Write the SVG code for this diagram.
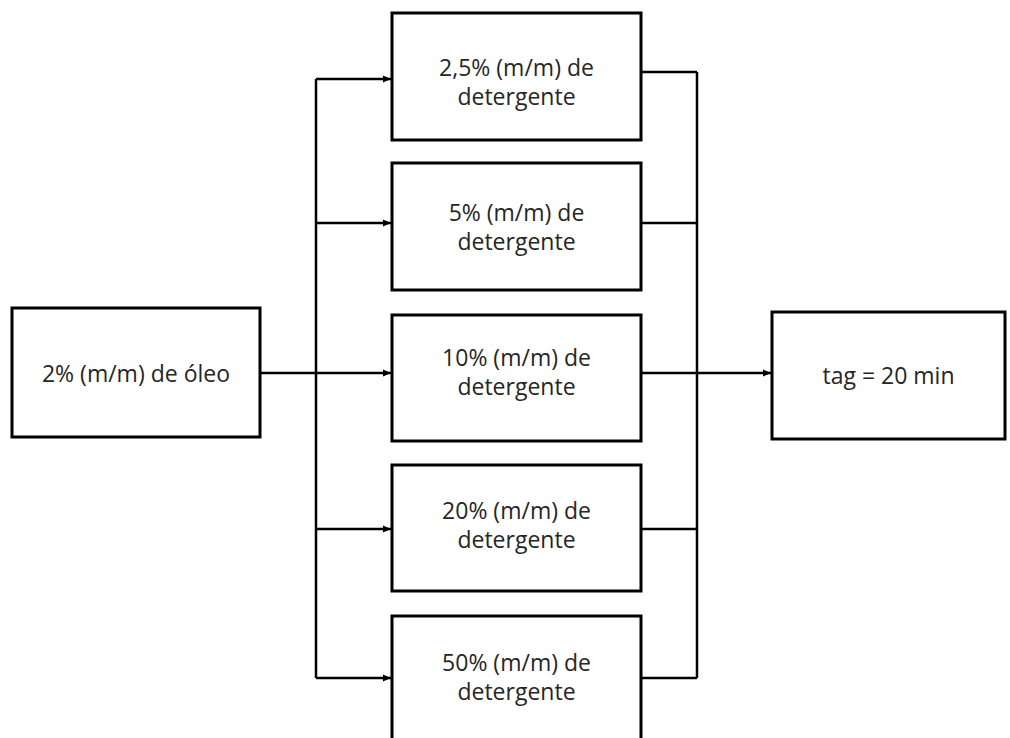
<svg xmlns="http://www.w3.org/2000/svg" width="1010" height="738" viewBox="0 0 1010 738">
<style>
.box{fill:#fff;stroke:#000;stroke-width:3}
.t{font-family:"Open Sans","Noto Sans",sans-serif;font-size:23px;fill:#262626;text-anchor:middle}
.c{fill:none;stroke:#000;stroke-width:2.5}
</style>
<defs>
<marker id="ah" markerWidth="8" markerHeight="8" refX="8" refY="4" orient="auto" markerUnits="userSpaceOnUse">
<path d="M0,0.5 L8,4 L0,7.5 Z" fill="#000"/>
</marker>
</defs>
<rect width="1010" height="738" fill="#fff"/>
<g id="connectors">
<path class="c" d="M316,79 V678"/>
<path class="c" d="M697,72 V678"/>
<path class="c" d="M316,79 H391" marker-end="url(#ah)"/>
<path class="c" d="M316,223 H391" marker-end="url(#ah)"/>
<path class="c" d="M260,373 H391" marker-end="url(#ah)"/>
<path class="c" d="M316,529 H391" marker-end="url(#ah)"/>
<path class="c" d="M316,678 H391" marker-end="url(#ah)"/>
<path class="c" d="M641,72 H697"/>
<path class="c" d="M641,223 H697"/>
<path class="c" d="M641,373 H771" marker-end="url(#ah)"/>
<path class="c" d="M641,529 H697"/>
<path class="c" d="M641,678 H697"/>
</g>
<g id="oleo">
<rect class="box" x="12" y="308" width="248" height="129"/>
<text class="t" x="136" y="382">2% (m/m) de óleo</text>
</g>
<g id="d25">
<rect class="box" x="392" y="13" width="249" height="127"/>
<text class="t" x="516.5" y="76">2,5% (m/m) de</text>
<text class="t" x="516.5" y="105">detergente</text>
</g>
<g id="d5">
<rect class="box" x="392" y="163" width="249" height="127"/>
<text class="t" x="516.5" y="221">5% (m/m) de</text>
<text class="t" x="516.5" y="250">detergente</text>
</g>
<g id="d10">
<rect class="box" x="392" y="315" width="249" height="126"/>
<text class="t" x="516.5" y="366">10% (m/m) de</text>
<text class="t" x="516.5" y="395">detergente</text>
</g>
<g id="d20">
<rect class="box" x="392" y="465" width="249" height="126"/>
<text class="t" x="516.5" y="519">20% (m/m) de</text>
<text class="t" x="516.5" y="548">detergente</text>
</g>
<g id="d50">
<rect class="box" x="392" y="616" width="249" height="127"/>
<text class="t" x="516.5" y="671">50% (m/m) de</text>
<text class="t" x="516.5" y="700">detergente</text>
</g>
<g id="tag">
<rect class="box" x="772" y="312" width="233" height="127"/>
<text class="t" x="888.5" y="384">tag = 20 min</text>
</g>
</svg>
